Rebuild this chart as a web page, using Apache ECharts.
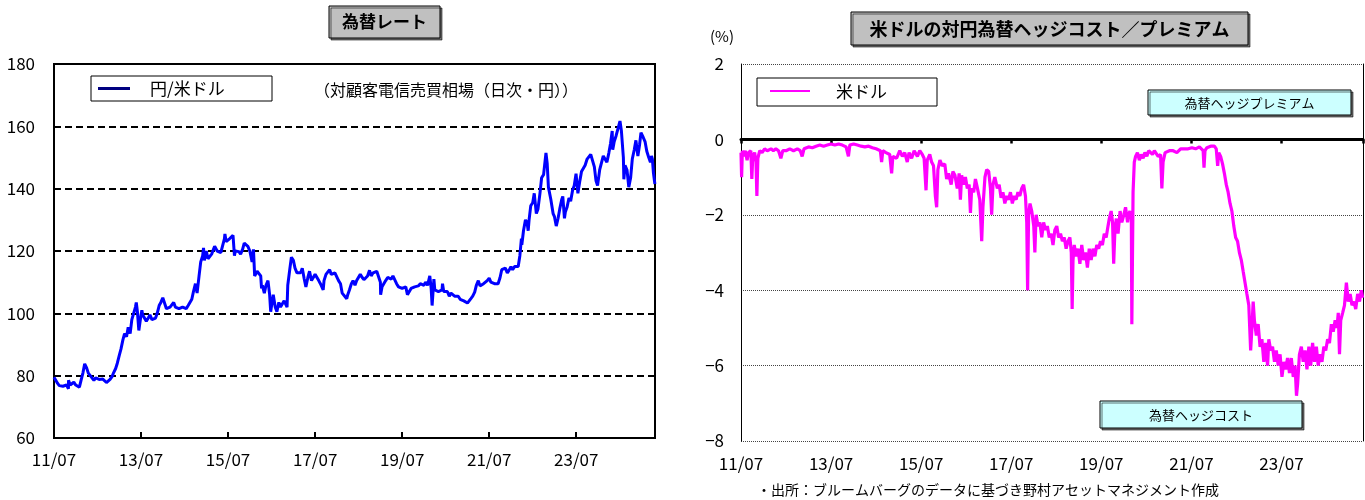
<!DOCTYPE html>
<html>
<head>
<meta charset="utf-8">
<script src="https://cdn.jsdelivr.net/npm/echarts@6/dist/echarts.min.js"></script>
<style>html,body{margin:0;padding:0;background:#fff}#c{width:1365px;height:500px}</style>
</head>
<body>
<div id="c"></div>
<script>
// ---------- DATA ----------
const START_DATE = '2011-07-01';
const END_DATE = '2025-04-23';
const xTickLabels = ['11/07','13/07','15/07','17/07','19/07','21/07','23/07'];
const fxTicks = [60,80,100,120,140,160,180];
const hedgeTicks = [-8,-6,-4,-2,0,2];

const fxDates = ['2011-07-01','2011-07-15','2011-08-01','2011-08-15','2011-09-01','2011-09-15','2011-10-01','2011-10-15','2011-10-31','2011-11-01','2011-11-15','2011-12-01','2011-12-15',
'2012-01-01','2012-01-15','2012-02-01','2012-02-15','2012-03-01','2012-03-15','2012-04-01','2012-04-15','2012-05-01','2012-05-15','2012-06-01','2012-06-15','2012-07-01','2012-07-15','2012-08-01','2012-08-15','2012-09-01','2012-09-15','2012-10-01','2012-10-15','2012-11-01','2012-11-15','2012-12-01','2012-12-15',
'2013-01-01','2013-01-15','2013-02-01','2013-02-15','2013-03-01','2013-03-15','2013-04-01','2013-04-15','2013-05-01','2013-05-15','2013-05-22','2013-06-01','2013-06-13','2013-07-01','2013-07-08','2013-07-15','2013-08-01','2013-08-15','2013-09-01','2013-09-15','2013-10-01','2013-10-15','2013-11-01','2013-11-15','2013-12-01','2013-12-15',
'2014-01-01','2014-01-15','2014-02-01','2014-02-15','2014-03-01','2014-03-15','2014-04-01','2014-04-15','2014-05-01','2014-05-15','2014-06-01','2014-06-15','2014-07-01','2014-07-15','2014-08-01','2014-08-15','2014-09-01','2014-09-15','2014-10-01','2014-10-15','2014-11-01','2014-11-15','2014-12-01','2014-12-08','2014-12-15',
'2015-01-01','2015-01-15','2015-02-01','2015-02-15','2015-03-01','2015-03-10','2015-03-15','2015-04-01','2015-04-15','2015-05-01','2015-05-15','2015-06-01','2015-06-05','2015-06-15','2015-07-01','2015-07-15','2015-08-01','2015-08-12','2015-08-24','2015-09-01','2015-09-15','2015-10-01','2015-10-15','2015-11-01','2015-11-15','2015-12-01','2015-12-15',
'2016-01-01','2016-01-20','2016-02-01','2016-02-11','2016-03-01','2016-03-15','2016-04-01','2016-04-08','2016-04-15','2016-05-01','2016-05-15','2016-06-01','2016-06-15','2016-06-24','2016-07-01','2016-07-15','2016-08-01','2016-08-15','2016-09-01','2016-09-15','2016-10-01','2016-10-15','2016-11-01','2016-11-09','2016-11-15','2016-12-01','2016-12-15',
'2017-01-01','2017-01-15','2017-02-01','2017-02-15','2017-03-01','2017-03-15','2017-04-01','2017-04-15','2017-05-01','2017-05-15','2017-06-01','2017-06-15','2017-07-01','2017-07-15','2017-08-01','2017-08-15','2017-09-01','2017-09-08','2017-09-15','2017-10-01','2017-10-15','2017-11-01','2017-11-15','2017-12-01','2017-12-15',
'2018-01-01','2018-01-15','2018-02-01','2018-02-15','2018-03-01','2018-03-23','2018-04-01','2018-04-15','2018-05-01','2018-05-15','2018-06-01','2018-06-15','2018-07-01','2018-07-15','2018-08-01','2018-08-15','2018-09-01','2018-09-15','2018-10-01','2018-10-15','2018-11-01','2018-11-15','2018-12-01','2018-12-15',
'2019-01-01','2019-01-03','2019-01-15','2019-02-01','2019-02-15','2019-03-01','2019-03-15','2019-04-01','2019-04-15','2019-05-01','2019-05-15','2019-06-01','2019-06-15','2019-07-01','2019-07-15','2019-08-01','2019-08-15','2019-09-01','2019-09-15','2019-10-01','2019-10-15','2019-11-01','2019-11-15','2019-12-01','2019-12-15',
'2020-01-01','2020-01-15','2020-02-01','2020-02-20','2020-03-01','2020-03-09','2020-03-24','2020-04-01','2020-04-15','2020-05-01','2020-05-15','2020-06-01','2020-06-05','2020-06-15','2020-07-01','2020-07-15','2020-08-01','2020-08-15','2020-09-01','2020-09-15','2020-10-01','2020-10-15','2020-11-01','2020-11-15','2020-12-01','2020-12-15',
'2021-01-01','2021-01-15','2021-02-01','2021-02-15','2021-03-01','2021-03-15','2021-04-01','2021-04-15','2021-05-01','2021-05-15','2021-06-01','2021-06-15','2021-07-01','2021-07-15','2021-08-01','2021-08-15','2021-09-01','2021-09-15','2021-10-01','2021-10-15','2021-11-01','2021-11-15','2021-12-01','2021-12-15',
'2022-01-01','2022-01-15','2022-02-01','2022-02-15','2022-03-01','2022-03-15','2022-03-28','2022-04-01','2022-04-15','2022-05-01','2022-05-15','2022-05-24','2022-06-01','2022-06-15','2022-07-01','2022-07-14','2022-08-01','2022-08-15','2022-09-01','2022-09-15','2022-10-01','2022-10-21','2022-11-01','2022-11-11','2022-11-21','2022-12-01','2022-12-15','2022-12-20',
'2023-01-01','2023-01-16','2023-02-01','2023-02-15','2023-03-01','2023-03-10','2023-03-24','2023-04-01','2023-04-15','2023-05-01','2023-05-15','2023-06-01','2023-06-15','2023-06-30','2023-07-15','2023-08-01','2023-08-15','2023-09-01','2023-09-15','2023-10-01','2023-10-15','2023-11-01','2023-11-15','2023-12-01','2023-12-15','2023-12-28',
'2024-01-01','2024-01-15','2024-02-01','2024-02-15','2024-03-01','2024-03-15','2024-04-01','2024-04-15','2024-04-29','2024-05-03','2024-05-15','2024-06-01','2024-06-15','2024-07-03','2024-07-15','2024-08-01','2024-08-05','2024-08-15','2024-09-01','2024-09-16','2024-10-01','2024-10-15','2024-11-01','2024-11-15','2024-12-01','2024-12-15','2024-12-27',
'2025-01-10','2025-01-15','2025-02-01','2025-02-15','2025-03-01','2025-03-15','2025-03-24','2025-04-01','2025-04-10','2025-04-22'];
const fxValues = [79.5,79.0,77.5,76.8,77.0,76.6,77.0,77.0,75.8,78.5,77.0,77.6,77.9,
77.0,76.8,76.3,78.5,81.0,83.8,82.5,80.8,80.0,80.3,78.5,79.3,79.7,78.8,78.2,78.9,78.3,77.8,78.0,78.8,79.7,81.0,82.3,84.0,
86.5,88.5,91.5,93.5,92.5,95.5,93.5,98.0,97.5,102.0,103.5,100.5,94.5,99.5,101.0,99.5,99.0,97.5,98.5,99.5,98.0,98.5,98.5,100.0,102.5,103.5,
105.0,104.5,101.5,101.8,102.0,101.5,103.5,102.0,102.5,101.5,102.0,102.0,101.5,101.5,102.5,102.5,104.5,107.0,109.5,106.5,112.0,116.5,118.5,121.0,117.0,
120.0,117.5,117.5,119.0,119.5,121.5,121.0,120.0,119.5,119.5,119.5,124.0,125.5,123.0,122.5,124.0,124.0,125.0,118.5,120.0,120.5,119.8,119.0,120.5,122.5,123.0,121.5,
120.0,116.5,120.5,112.0,113.5,113.0,112.0,108.0,109.0,106.5,109.0,110.5,106.0,100.5,102.5,106.0,102.0,100.5,103.5,102.0,101.5,104.0,104.5,102.0,109.0,114.0,118.0,
117.0,114.5,113.0,113.5,113.0,114.5,111.0,108.5,111.5,113.5,110.5,110.0,112.5,113.0,110.5,109.5,110.0,107.5,110.5,112.5,112.0,114.0,112.5,112.5,113.0,
112.5,110.5,109.5,106.5,106.5,104.7,106.0,107.5,109.5,110.5,109.0,110.5,110.8,112.5,111.5,110.8,111.0,112.0,113.8,112.0,113.0,113.5,113.5,113.0,
110.0,106.0,108.5,108.8,110.5,111.5,111.5,111.0,112.0,111.5,109.5,108.5,108.5,108.0,108.0,108.5,106.0,106.2,108.0,108.0,108.5,108.5,108.8,109.5,109.5,
109.0,110.0,109.0,112.0,108.0,102.5,111.0,107.5,107.0,107.0,107.0,107.5,109.5,107.0,107.5,107.0,105.5,106.5,106.0,105.5,105.5,105.5,104.5,104.5,104.0,103.5,
103.3,103.8,104.8,105.5,106.8,109.0,110.5,108.8,109.0,109.5,109.5,110.5,111.3,110.0,109.5,109.5,110.0,109.5,111.5,114.0,114.0,114.5,113.0,113.8,
115.0,114.0,115.0,115.5,115.0,118.5,124.0,122.0,126.5,130.0,129.0,126.5,130.0,134.5,135.5,138.5,132.0,133.5,138.5,143.5,144.5,151.5,148.0,140.5,140.0,136.5,136.5,132.0,
131.0,128.0,130.5,133.5,136.5,137.5,130.5,132.5,134.0,137.0,136.0,139.5,141.0,144.8,138.5,142.5,145.5,145.5,147.5,149.5,149.5,151.0,150.5,147.0,142.5,141.0,
141.5,146.0,146.5,150.5,150.0,148.5,151.5,154.5,158.5,152.5,155.0,157.0,157.5,161.7,158.5,150.0,143.0,147.5,146.0,140.5,143.5,149.5,152.5,155.5,150.5,154.0,158.0,
158.2,156.5,155.0,152.0,150.0,148.5,150.5,149.5,145.0,141.5];

const hedgeDates = ['2011-07-01','2011-07-06','2011-07-12','2011-07-25','2011-08-05','2011-08-20','2011-09-01','2011-09-20','2011-09-28','2011-10-05','2011-10-20','2011-11-01','2011-11-08','2011-11-16','2011-12-01','2011-12-20',
'2012-01-10','2012-02-01','2012-03-01','2012-03-20','2012-04-10','2012-05-01','2012-05-20','2012-06-05','2012-07-01','2012-08-01','2012-09-01','2012-10-01','2012-10-25','2012-11-10','2012-11-25',
'2013-01-01','2013-02-01','2013-03-01','2013-04-01','2013-05-01','2013-06-01','2013-07-01','2013-08-01','2013-09-01','2013-10-01','2013-11-01','2013-11-20','2013-12-01',
'2014-01-01','2014-02-01','2014-03-01','2014-04-01','2014-05-01','2014-06-01','2014-07-01','2014-08-05','2014-08-15','2014-08-25','2014-09-20','2014-10-20','2014-11-05','2014-11-15','2014-12-15',
'2015-01-10','2015-02-01','2015-02-20','2015-03-10','2015-03-25','2015-04-15','2015-05-05','2015-06-01','2015-06-20','2015-07-10','2015-07-25','2015-08-10','2015-08-20','2015-09-10','2015-09-25','2015-10-10','2015-10-25','2015-11-05','2015-11-15','2015-12-01','2015-12-20',
'2016-01-10','2016-01-25','2016-02-10','2016-03-01','2016-03-15','2016-04-01','2016-04-20','2016-05-05','2016-05-15','2016-05-25','2016-06-10','2016-06-25','2016-07-10','2016-07-25','2016-08-05','2016-08-15','2016-09-01','2016-09-15','2016-10-01','2016-10-20','2016-11-05','2016-11-15','2016-12-01','2016-12-15',
'2017-01-01','2017-01-15','2017-01-25','2017-02-05','2017-02-20','2017-03-10','2017-03-25','2017-04-10','2017-04-25','2017-05-10','2017-05-25','2017-06-10','2017-06-25','2017-07-10','2017-07-25','2017-08-10','2017-08-25','2017-09-10','2017-09-25','2017-10-10','2017-10-25','2017-11-05','2017-11-12','2017-11-20','2017-12-01','2017-12-15',
'2018-01-01','2018-01-10','2018-01-20','2018-02-05','2018-02-20','2018-03-05','2018-03-20','2018-04-05','2018-04-20','2018-05-05','2018-05-20','2018-06-05','2018-06-20','2018-07-05','2018-07-20','2018-08-05','2018-08-20','2018-09-05','2018-09-20','2018-10-05','2018-10-20','2018-11-01','2018-11-08','2018-11-15','2018-11-25','2018-12-10','2018-12-25',
'2019-01-10','2019-01-25','2019-02-10','2019-02-25','2019-03-10','2019-03-25','2019-04-10','2019-04-25','2019-05-10','2019-05-25','2019-06-10','2019-06-25','2019-07-10','2019-07-25','2019-08-10','2019-08-25','2019-09-05','2019-09-20','2019-10-01','2019-10-10','2019-10-20','2019-11-01','2019-11-15','2019-12-01','2019-12-15',
'2020-01-01','2020-01-15','2020-02-01','2020-02-10','2020-02-20','2020-03-01','2020-03-05','2020-03-15','2020-03-25','2020-04-05','2020-04-20','2020-05-05','2020-05-20','2020-06-05','2020-06-20','2020-07-05','2020-07-20','2020-08-05','2020-08-20','2020-09-05','2020-09-20','2020-10-05','2020-10-25','2020-11-05','2020-11-15','2020-12-01','2020-12-15',
'2021-01-05','2021-01-20','2021-02-05','2021-02-20','2021-03-05','2021-03-20','2021-04-05','2021-04-20','2021-05-05','2021-05-20','2021-06-05','2021-06-20','2021-07-05','2021-07-20','2021-08-05','2021-08-20','2021-09-05','2021-09-20','2021-10-05','2021-10-12','2021-10-20','2021-11-05','2021-11-20','2021-12-05','2021-12-20',
'2022-01-05','2022-01-20','2022-02-01','2022-02-10','2022-02-25','2022-03-10','2022-03-25','2022-04-10','2022-04-25','2022-05-10','2022-05-25','2022-06-10','2022-06-25','2022-07-10','2022-07-25','2022-08-10','2022-08-25','2022-09-10','2022-09-25','2022-10-10','2022-10-25','2022-11-05','2022-11-15','2022-11-25','2022-12-10','2022-12-25',
'2023-01-10','2023-01-25','2023-02-10','2023-02-25','2023-03-10','2023-03-20','2023-04-05','2023-04-20','2023-05-05','2023-05-20','2023-06-05','2023-06-20','2023-07-05','2023-07-20','2023-08-05','2023-08-20','2023-09-05','2023-09-20','2023-10-05','2023-10-20','2023-11-01','2023-11-10','2023-11-25','2023-12-10','2023-12-25',
'2024-01-10','2024-01-25','2024-02-10','2024-02-25','2024-03-10','2024-03-25','2024-04-10','2024-04-25','2024-05-10','2024-05-25','2024-06-10','2024-06-25','2024-07-10','2024-07-25','2024-08-10','2024-08-25','2024-09-10','2024-09-25','2024-10-05','2024-10-15','2024-10-25','2024-11-10','2024-11-25','2024-12-10','2024-12-25',
'2025-01-10','2025-01-25','2025-02-10','2025-02-25','2025-03-10','2025-03-25','2025-04-10','2025-04-20'];
const hedgeValues = [-0.35,-1.0,-0.3,-0.45,-0.3,-0.55,-0.35,-0.3,-1.05,-0.45,-0.35,-0.6,-1.5,-0.5,-0.3,-0.35,
-0.25,-0.3,-0.25,-0.3,-0.25,-0.3,-0.5,-0.3,-0.3,-0.25,-0.3,-0.25,-0.3,-0.45,-0.25,
-0.2,-0.22,-0.18,-0.15,-0.18,-0.15,-0.12,-0.15,-0.12,-0.15,-0.2,-0.45,-0.15,
-0.12,-0.15,-0.18,-0.2,-0.18,-0.22,-0.25,-0.3,-0.6,-0.3,-0.35,-0.4,-0.9,-0.45,-0.5,
-0.3,-0.45,-0.35,-0.6,-0.35,-0.5,-0.3,-0.45,-0.3,-0.4,-0.5,-1.35,-0.55,-0.4,-0.6,-0.7,-1.5,-1.8,-0.8,-0.55,-0.7,
-0.65,-1.05,-0.9,-1.2,-0.85,-0.95,-1.3,-0.9,-1.6,-0.95,-1.2,-1.0,-1.3,-1.2,-1.95,-1.3,-1.4,-1.05,-1.3,-1.6,-2.7,-1.8,-1.0,-0.8,
-0.85,-1.3,-2.0,-1.2,-1.0,-1.3,-1.2,-1.55,-1.4,-1.7,-1.5,-1.6,-1.4,-1.7,-1.5,-1.6,-1.4,-1.5,-1.3,-1.2,-1.5,-2.2,-4.0,-2.0,-1.7,-1.9,
-2.3,-3.0,-2.0,-2.3,-2.2,-2.6,-2.2,-2.4,-2.3,-2.6,-2.5,-2.8,-2.4,-2.3,-2.6,-2.5,-2.7,-2.6,-2.9,-2.7,-2.6,-3.0,-4.5,-3.2,-2.8,-3.1,-2.9,
-3.3,-2.8,-3.2,-3.0,-3.4,-2.9,-3.2,-2.9,-3.1,-2.8,-2.9,-2.7,-2.8,-2.5,-2.6,-2.3,-2.1,-1.9,-2.2,-3.3,-2.4,-2.1,-2.5,-1.9,-2.2,
-2.0,-1.8,-2.2,-2.0,-1.9,-2.1,-4.9,-1.4,-0.6,-0.45,-0.35,-0.55,-0.4,-0.5,-0.35,-0.45,-0.3,-0.35,-0.4,-0.3,-0.35,-0.45,-0.4,-1.3,-0.6,-0.35,-0.4,
-0.3,-0.35,-0.3,-0.25,-0.35,-0.3,-0.25,-0.3,-0.25,-0.3,-0.25,-0.28,-0.22,-0.27,-0.25,-0.22,-0.2,-0.25,-0.3,-0.75,-0.3,-0.22,-0.25,-0.18,-0.2,
-0.18,-0.25,-0.7,-0.35,-0.45,-0.65,-0.9,-1.2,-1.4,-1.7,-1.9,-2.3,-2.6,-2.7,-3.0,-3.2,-3.5,-3.8,-4.1,-4.4,-5.6,-5.0,-4.3,-4.8,-5.2,-4.9,
-5.5,-5.3,-5.9,-5.4,-6.0,-5.3,-5.6,-5.5,-5.9,-5.6,-6.0,-5.7,-6.3,-5.9,-6.1,-5.8,-6.2,-5.8,-6.3,-6.0,-6.8,-6.5,-5.7,-5.5,-5.9,
-5.6,-6.1,-5.5,-6.0,-5.4,-5.9,-5.5,-6.0,-5.7,-5.9,-5.5,-5.6,-5.3,-5.4,-4.9,-5.1,-4.8,-5.0,-4.6,-5.7,-4.8,-4.6,-4.4,-3.8,-4.3,
-4.1,-4.4,-4.3,-4.5,-4.1,-4.3,-4.0,-4.2];

// ---------- HELPERS ----------
function toMonths(s) {
  const [y, m, d] = s.split('-').map(Number);
  const [y0, m0] = START_DATE.split('-').map(Number);
  return (y - y0) * 12 + (m - m0) + (d - 1) / 30.5;
}
const X_MAX = toMonths(END_DATE);
const fxData = fxDates.map((d, i) => [toMonths(d), fxValues[i]]);
const hedgeData = hedgeDates.map((d, i) => [toMonths(d), hedgeValues[i]]);
function xLabel(v) {
  const k = Math.round(v / 24);
  if (Math.abs(v - k * 24) > 0.01 || k >= xTickLabels.length) return '';
  return xTickLabels[k];
}
const NUM_FONT = "'Liberation Sans Narrow','Arial Narrow','Noto Sans CJK JP',sans-serif";
const JP_FONT = "'Noto Sans CJK JP',sans-serif";

// ---------- CHART ----------
const chart = echarts.init(document.getElementById('c'), null, {renderer: 'canvas'});
const numLabel = {color: '#000', fontSize: 17, fontFamily: NUM_FONT};

function box(x, y, w, h, fill, shadow) {
  return {type: 'rect', z: 100, shape: {x, y, width: w, height: h},
    style: {fill, stroke: '#000', lineWidth: 1,
      shadowColor: shadow ? 'rgba(0,0,0,0.55)' : 'transparent', shadowOffsetX: shadow ? 2 : 0, shadowOffsetY: shadow ? 2 : 0, shadowBlur: 0}};
}
function txt(x, y, text, size, opts) {
  return {type: 'text', z: 101, x, y,
    style: Object.assign({text, fill: '#000', font: size + 'px ' + JP_FONT, align: 'left', verticalAlign: 'middle'}, opts || {})};
}
function line(x1, y1, x2, y2, color, w) {
  return {type: 'line', z: 101, shape: {x1, y1, x2, y2}, style: {stroke: color, lineWidth: w}};
}

chart.setOption({
  animation: false,
  backgroundColor: '#fff',
  grid: [
    {left: 54, top: 64, width: 601, height: 374, show: true, borderColor: '#000', borderWidth: 2, backgroundColor: 'transparent', containLabel: false},
    {left: 741, top: 64, width: 622, height: 377, show: false, containLabel: false}
  ],
  xAxis: [
    {type: 'value', gridIndex: 0, min: 0, max: X_MAX, interval: 24,
      axisLine: {show: true, onZero: false, lineStyle: {color: '#000', width: 2}},
      axisTick: {show: true, inside: true, length: 6, lineStyle: {color: '#000', width: 2}},
      axisLabel: Object.assign({margin: 13, formatter: xLabel, showMaxLabel: false}, numLabel),
      splitLine: {show: false}},
    {type: 'value', gridIndex: 1, min: 0, max: X_MAX, interval: 24, position: 'bottom',
      axisLine: {show: true, onZero: true, lineStyle: {color: '#000', width: 3}},
      axisTick: {show: true, inside: false, length: 4, lineStyle: {color: '#000', width: 2.5}},
      axisLabel: {show: false},
      splitLine: {show: false}},
    {type: 'value', gridIndex: 1, min: 0, max: X_MAX, interval: 24, position: 'bottom',
      axisLine: {show: false, onZero: false},
      axisTick: {show: false},
      axisLabel: Object.assign({margin: 14, formatter: xLabel, showMaxLabel: false}, numLabel),
      splitLine: {show: false}}
  ],
  yAxis: [
    {type: 'value', gridIndex: 0, min: fxTicks[0], max: fxTicks[fxTicks.length - 1], interval: 20,
      axisLine: {show: true, onZero: false, lineStyle: {color: '#000', width: 2}},
      axisTick: {show: false},
      axisLabel: Object.assign({margin: 19}, numLabel),
      splitLine: {show: true, lineStyle: {color: '#000', width: 2, type: [7, 4]}}},
    {type: 'value', gridIndex: 1, min: hedgeTicks[0], max: hedgeTicks[hedgeTicks.length - 1], interval: 2, position: 'left',
      axisLine: {show: true, onZero: false, lineStyle: {color: '#000', width: 1}},
      axisTick: {show: false},
      axisLabel: Object.assign({margin: 17, formatter: v => v < 0 ? '\u2212' + Math.abs(v) : String(v)}, numLabel),
      splitLine: {show: true, lineStyle: {color: '#444', width: 1, type: [1, 1]}}},
    {type: 'value', gridIndex: 1, min: hedgeTicks[0], max: hedgeTicks[hedgeTicks.length - 1], interval: 2, position: 'right',
      axisLine: {show: true, onZero: false, lineStyle: {color: '#000', width: 1}},
      axisTick: {show: false}, axisLabel: {show: false}, splitLine: {show: false}}
  ],
  series: [
    {type: 'line', name: '円/米ドル', xAxisIndex: 0, yAxisIndex: 0, data: fxData, showSymbol: false, symbol: 'none',
      lineStyle: {color: '#0000FF', width: 3}, itemStyle: {color: '#0000FF'}, z: 5},
    {type: 'line', name: '米ドル', xAxisIndex: 1, yAxisIndex: 1, data: hedgeData, showSymbol: false, symbol: 'none',
      lineStyle: {color: '#FF00FF', width: 3.2}, itemStyle: {color: '#FF00FF'}, z: 5}
  ],
  graphic: [
    // left title
    box(329, 6, 111, 32, '#C0C0C0', true),
    txt(384.5, 22, '為替レート', 17, {align: 'center', font: 'bold 17px ' + JP_FONT}),
    // left legend
    box(91, 76, 181, 25, '#fff', false),
    line(98, 88.5, 130, 88.5, '#000080', 3),
    txt(150, 88.5, '円/米ドル', 17),
    txt(314, 90, '（対顧客電信売買相場（日次・円））', 16, {font: '16px ' + JP_FONT}),
    // right title
    box(851, 12, 397, 33, '#C0C0C0', true),
    txt(1049.5, 29, '米ドルの対円為替ヘッジコスト／プレミアム', 18, {align: 'center', font: 'bold 18px ' + JP_FONT}),
    txt(722, 36, '(%)', 15, {align: 'center', font: '15px ' + NUM_FONT}),
    // right legend
    box(757, 78, 180, 28, '#fff', false),
    line(770, 91, 810, 91, '#FF00FF', 2),
    txt(836, 92, '米ドル', 17),
    // annotation boxes
    box(1148, 90, 203, 25, '#CCFFFF', true),
    txt(1249.5, 103, '為替ヘッジプレミアム', 13, {align: 'center'}),
    box(1100, 401, 202, 27, '#CCFFFF', true),
    txt(1201, 415, '為替ヘッジコスト', 13, {align: 'center'}),
    // source
    txt(757, 490, '・出所：ブルームバーグのデータに基づき野村アセットマネジメント作成', 14)
  ]
});
</script>
</body>
</html>
